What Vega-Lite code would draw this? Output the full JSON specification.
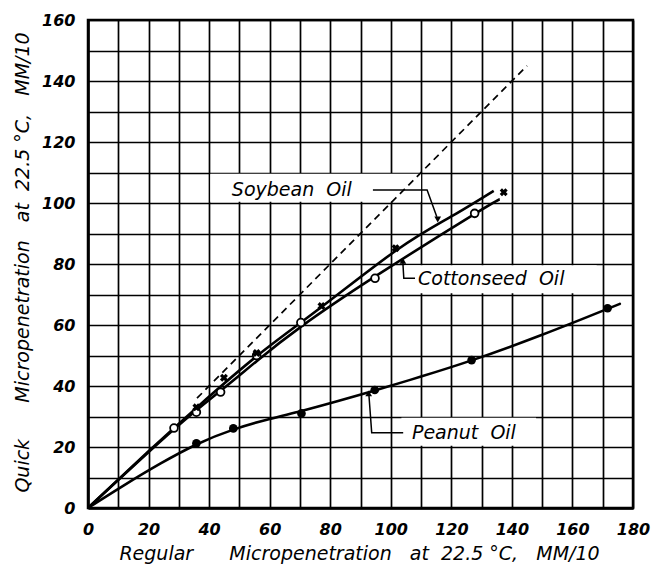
{
  "$schema": "https://vega.github.io/schema/vega-lite/v6.json",
  "width": 545,
  "height": 488,
  "autosize": "none",
  "padding": {"left": 88, "top": 20, "right": 18, "bottom": 57},
  "background": "white",
  "config": {
    "view": {"stroke": "black", "strokeWidth": 2.5},
    "axis": {
      "grid": true, "gridColor": "black", "gridWidth": 1.7, "gridOpacity": 1,
      "domainColor": "black", "domainWidth": 2.5, "ticks": false,
      "labelFont": "DejaVu Sans", "labelFontStyle": "italic", "labelFontWeight": "bold", "labelFontSize": 16, "labelColor": "black",
      "titleFont": "DejaVu Sans", "titleFontStyle": "italic", "titleFontWeight": "normal", "titleFontSize": 19, "titleColor": "black"
    }
  },
  "datasets": {
    "curves": [
      {"series": "Soybean Oil", "x": 0, "y": 0}, {"series": "Soybean Oil", "x": 20, "y": 18.6},
      {"series": "Soybean Oil", "x": 36, "y": 33}, {"series": "Soybean Oil", "x": 56, "y": 50},
      {"series": "Soybean Oil", "x": 77, "y": 65.8}, {"series": "Soybean Oil", "x": 102, "y": 84.6},
      {"series": "Soybean Oil", "x": 120, "y": 95.6}, {"series": "Soybean Oil", "x": 134, "y": 104},
      {"series": "Cottonseed Oil", "x": 0, "y": 0}, {"series": "Cottonseed Oil", "x": 28.4, "y": 25.8},
      {"series": "Cottonseed Oil", "x": 44, "y": 38.6}, {"series": "Cottonseed Oil", "x": 56, "y": 48.4},
      {"series": "Cottonseed Oil", "x": 70.3, "y": 59.4}, {"series": "Cottonseed Oil", "x": 95, "y": 76},
      {"series": "Cottonseed Oil", "x": 128, "y": 96.6}, {"series": "Cottonseed Oil", "x": 136, "y": 101.2},
      {"series": "Peanut Oil", "x": 0, "y": 0}, {"series": "Peanut Oil", "x": 12, "y": 7.5},
      {"series": "Peanut Oil", "x": 24, "y": 14.6}, {"series": "Peanut Oil", "x": 36, "y": 20.9},
      {"series": "Peanut Oil", "x": 48, "y": 25.7}, {"series": "Peanut Oil", "x": 60, "y": 29.2},
      {"series": "Peanut Oil", "x": 70.5, "y": 31.8}, {"series": "Peanut Oil", "x": 82, "y": 34.9},
      {"series": "Peanut Oil", "x": 94.7, "y": 38.5}, {"series": "Peanut Oil", "x": 110, "y": 43.1},
      {"series": "Peanut Oil", "x": 126.7, "y": 48.4}, {"series": "Peanut Oil", "x": 150, "y": 56.8},
      {"series": "Peanut Oil", "x": 171.6, "y": 65.3}, {"series": "Peanut Oil", "x": 175.6, "y": 66.9}
    ],
    "equal": [{"x": 36, "y": 36}, {"x": 145, "y": 145}],
    "points": [
      {"series": "Cottonseed Oil", "x": 28.4, "y": 26.2}, {"series": "Cottonseed Oil", "x": 35.8, "y": 31.4}, {"series": "Cottonseed Oil", "x": 43.8, "y": 38},
      {"series": "Cottonseed Oil", "x": 55.7, "y": 50}, {"series": "Cottonseed Oil", "x": 70.3, "y": 60.8}, {"series": "Cottonseed Oil", "x": 94.8, "y": 75.3},
      {"series": "Cottonseed Oil", "x": 127.7, "y": 96.6},
      {"series": "Soybean Oil", "x": 35.8, "y": 33}, {"series": "Soybean Oil", "x": 44.9, "y": 42.7}, {"series": "Soybean Oil", "x": 55.7, "y": 50.8},
      {"series": "Soybean Oil", "x": 77.1, "y": 66.2}, {"series": "Soybean Oil", "x": 101.6, "y": 85.2}, {"series": "Soybean Oil", "x": 137.3, "y": 103.5},
      {"series": "Peanut Oil", "x": 35.8, "y": 21.2}, {"series": "Peanut Oil", "x": 48, "y": 26.1}, {"series": "Peanut Oil", "x": 70.5, "y": 31},
      {"series": "Peanut Oil", "x": 94.7, "y": 38.7}, {"series": "Peanut Oil", "x": 126.7, "y": 48.5}, {"series": "Peanut Oil", "x": 171.6, "y": 65.5}
    ],
    "boxes": [
      {"label": "Soybean Oil", "x": 40.4, "x2": 110, "y": 100.4, "y2": 109.6},
      {"label": "Cottonseed Oil", "x": 104.5, "x2": 168, "y": 70.4, "y2": 79.6},
      {"label": "Peanut Oil", "x": 103.5, "x2": 148, "y": 20.4, "y2": 29.6}
    ],
    "labels": [
      {"label": "Soybean\u00a0\u00a0Oil", "x": 47.5, "y": 104.4},
      {"label": "Cottonseed\u00a0\u00a0Oil", "x": 109, "y": 75},
      {"label": "Peanut\u00a0\u00a0Oil", "x": 107, "y": 24.6}
    ],
    "leaders": [
      {"leader": "Soybean Oil", "o": 1, "x": 94.1, "y": 104.3}, {"leader": "Soybean Oil", "o": 2, "x": 112, "y": 104.3}, {"leader": "Soybean Oil", "o": 3, "x": 115.2, "y": 95.5},
      {"leader": "Cottonseed Oil", "o": 1, "x": 104, "y": 80.3}, {"leader": "Cottonseed Oil", "o": 2, "x": 104.3, "y": 75.3}, {"leader": "Cottonseed Oil", "o": 3, "x": 108, "y": 75.3},
      {"leader": "Peanut Oil", "o": 1, "x": 92.8, "y": 36.8}, {"leader": "Peanut Oil", "o": 2, "x": 93.7, "y": 24.7}, {"leader": "Peanut Oil", "o": 3, "x": 104.1, "y": 24.7}
    ],
    "arrows": [
      {"leader": "Soybean Oil", "dir": "down", "x": 115.5, "y": 94.6},
      {"leader": "Cottonseed Oil", "dir": "up", "x": 104, "y": 81},
      {"leader": "Peanut Oil", "dir": "up", "x": 92.7, "y": 37.6}
    ]
  },
  "encoding": {
    "x": {"field": "x", "type": "quantitative",
      "scale": {"domain": [0, 180], "nice": false, "zero": true},
      "axis": {"values": [0,10,20,30,40,50,60,70,80,90,100,110,120,130,140,150,160,170,180],
        "labelExpr": "datum.value % 20 === 0 ? datum.label : ''",
        "labelPadding": 13, "labelFlush": false, "labelOverlap": false,
        "title": "Regular\u00a0\u00a0\u00a0\u00a0\u00a0\u00a0Micropenetration\u00a0\u00a0\u00a0at\u00a0\u00a022.5\u00a0°C,\u00a0\u00a0\u00a0MM/10",
        "titleX": 271, "titleY": 45, "titleBaseline": "middle", "titleAlign": "center"}},
    "y": {"field": "y", "type": "quantitative",
      "scale": {"domain": [0, 160], "nice": false, "zero": true},
      "axis": {"values": [0,10,20,30,40,50,60,70,80,90,100,110,120,130,140,150,160],
        "labelExpr": "datum.value % 20 === 0 ? datum.label : ''",
        "labelPadding": 13, "labelFlush": false, "labelOverlap": false,
        "title": "Quick\u00a0\u00a0\u00a0\u00a0\u00a0\u00a0Micropenetration\u00a0\u00a0\u00a0at\u00a0\u00a022.5\u00a0°C,\u00a0\u00a0\u00a0MM/10",
        "titleX": -66, "titleY": 242, "titleAngle": -90, "titleBaseline": "middle", "titleAlign": "center"}}
  },
  "layer": [
    {
      "data": {"name": "boxes"},
      "mark": {"type": "rect", "fill": "white", "stroke": null},
      "encoding": {
        "x2": {"field": "x2"},
        "y2": {"field": "y2"}
      }
    },
    {
      "data": {"name": "equal"},
      "mark": {"type": "line", "color": "black", "strokeWidth": 1.7, "strokeDash": [7, 5]},
      "encoding": {}
    },
    {
      "data": {"name": "curves"},
      "mark": {"type": "line", "color": "black", "strokeWidth": 2.6, "interpolate": "natural"},
      "encoding": {
        "detail": {"field": "series"}
      }
    },
    {
      "data": {"name": "leaders"},
      "mark": {"type": "line", "color": "black", "strokeWidth": 1.5},
      "encoding": {
        "detail": {"field": "leader"},
        "order": {"field": "o"}
      }
    },
    {
      "data": {"name": "arrows"},
      "mark": {"type": "point", "filled": true, "color": "black", "size": 45, "opacity": 1},
      "encoding": {
        "shape": {"field": "dir", "type": "nominal", "scale": {"domain": ["up", "down"], "range": ["triangle-up", "triangle-down"]}, "legend": null}
      }
    },
    {
      "data": {"name": "points"},
      "transform": [{"filter": "datum.series === 'Cottonseed Oil'"}],
      "mark": {"type": "point", "shape": "circle", "filled": false, "fill": "white", "fillOpacity": 1, "stroke": "black", "strokeWidth": 1.8, "size": 60, "opacity": 1}
    },
    {
      "data": {"name": "points"},
      "transform": [{"filter": "datum.series === 'Soybean Oil'"}],
      "mark": {"type": "point", "shape": "cross", "angle": 45, "filled": true, "color": "black", "size": 65, "opacity": 1}
    },
    {
      "data": {"name": "points"},
      "transform": [{"filter": "datum.series === 'Peanut Oil'"}],
      "mark": {"type": "point", "shape": "circle", "filled": true, "color": "black", "size": 75, "opacity": 1}
    },
    {
      "data": {"name": "labels"},
      "mark": {"type": "text", "align": "left", "baseline": "middle", "font": "DejaVu Sans", "fontStyle": "italic", "fontSize": 19, "color": "black"},
      "encoding": {
        "text": {"field": "label"}
      }
    }
  ]
}
